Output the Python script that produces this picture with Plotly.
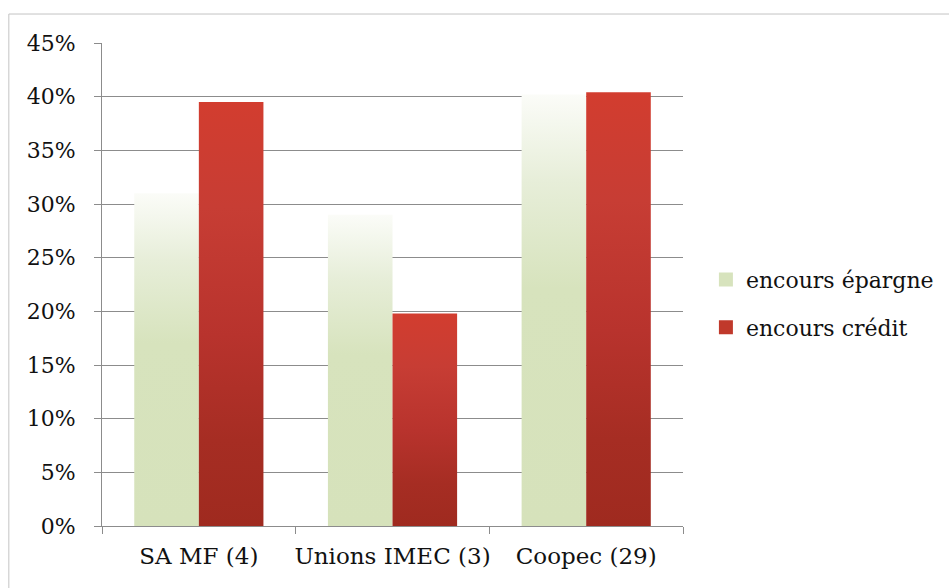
import plotly.graph_objects as go

# Share of outstanding savings and loans by institution type
categories = ["SA MF (4)", "Unions IMEC (3)", "Coopec (29)"]
series_names = ["encours épargne", "encours crédit"]
epargne = [31.0, 29.0, 40.2]
credit = [39.5, 19.8, 40.4]
y_ticks = [0, 5, 10, 15, 20, 25, 30, 35, 40, 45]

FONT = "DejaVu Serif"
GROUP_WIDTH = 0.667  # fraction of each category slot covered by the bar pair
PLOT_DOMAIN = [0, 0.686]

green_scale = [[0.0, "#d6e2bb"], [0.55, "#d7e3bd"], [0.8, "#e7eed9"], [1.0, "#fbfcf8"]]
red_scale = [[0.0, "#9f2a1f"], [0.2, "#a62d23"], [0.45, "#b8332d"],
             [0.75, "#c73d34"], [1.0, "#d23d2f"]]

fig = go.Figure()

bar_w = GROUP_WIDTH / 2
for k, (values, scale) in enumerate([(epargne, green_scale), (credit, red_scale)]):
    for i, v in enumerate(values):
        left = i - GROUP_WIDTH / 2 + k * bar_w
        right = left + bar_w
        fig.add_trace(go.Scatter(
            x=[left, right, right, left, left],
            y=[0, 0, v, v, 0],
            mode="lines",
            line=dict(width=0),
            fill="toself",
            fillgradient=dict(type="vertical", colorscale=scale),
            hoverinfo="skip",
            showlegend=False,
        ))

# legend entries
for name, color, grp in [(series_names[0], "#d7e3bd", "a"), (series_names[1], "#c0392b", "b")]:
    fig.add_trace(go.Scatter(
        x=[None], y=[None], mode="markers", name=name, legendgroup=grp,
        marker=dict(symbol="square", size=14, color=color),
    ))

# category labels on an overlaid axis
fig.add_trace(go.Scatter(x=[0, 1, 2], y=[None] * 3, xaxis="x2", showlegend=False,
                         hoverinfo="skip", mode="markers"))

fig.update_layout(
    width=949, height=588,
    margin=dict(l=102, r=0, t=43, b=62),
    paper_bgcolor="white", plot_bgcolor="white",
    font=dict(family=FONT, size=22, color="#111111"),
    xaxis=dict(
        domain=PLOT_DOMAIN, range=[-0.5, 2.5],
        tickvals=[-0.5, 0.5, 1.5, 2.5], ticktext=["", "", "", ""],
        ticks="outside", ticklen=7, tickcolor="#8c8c8c", tickwidth=1,
        showgrid=False, zeroline=False,
        showline=True, linecolor="#8c8c8c", linewidth=1,
    ),
    xaxis2=dict(
        domain=PLOT_DOMAIN, range=[-0.5, 2.5], overlaying="x", side="bottom", anchor="y",
        tickvals=[0, 1, 2], ticktext=categories, ticks="",
        showgrid=False, zeroline=False, showline=False,
        tickfont=dict(family=FONT, size=23), ticklabelstandoff=14,
    ),
    yaxis=dict(
        range=[0, 45],
        tickvals=y_ticks, ticktext=[f"{t}%" for t in y_ticks],
        ticks="outside", ticklen=7, tickcolor="#8c8c8c",
        showgrid=True, gridcolor="#8c8c8c", gridwidth=1,
        zeroline=False, showline=True, linecolor="#8c8c8c", linewidth=1,
        tickfont=dict(family=FONT, size=22), ticklabelstandoff=14,
    ),
    legend=dict(
        x=0.713, y=0.46, xanchor="left", yanchor="middle",
        font=dict(family=FONT, size=22), tracegroupgap=16,
        itemwidth=30, borderwidth=0, bgcolor="rgba(0,0,0,0)",
    ),
    shapes=[dict(type="rect", xref="paper", yref="paper",
                 x0=-0.11, x1=1.1, y0=-0.3, y1=1.06,
                 line=dict(color="#c4c4c4", width=1), fillcolor="rgba(0,0,0,0)",
                 layer="below")],
)

fig.write_html("out.html")
